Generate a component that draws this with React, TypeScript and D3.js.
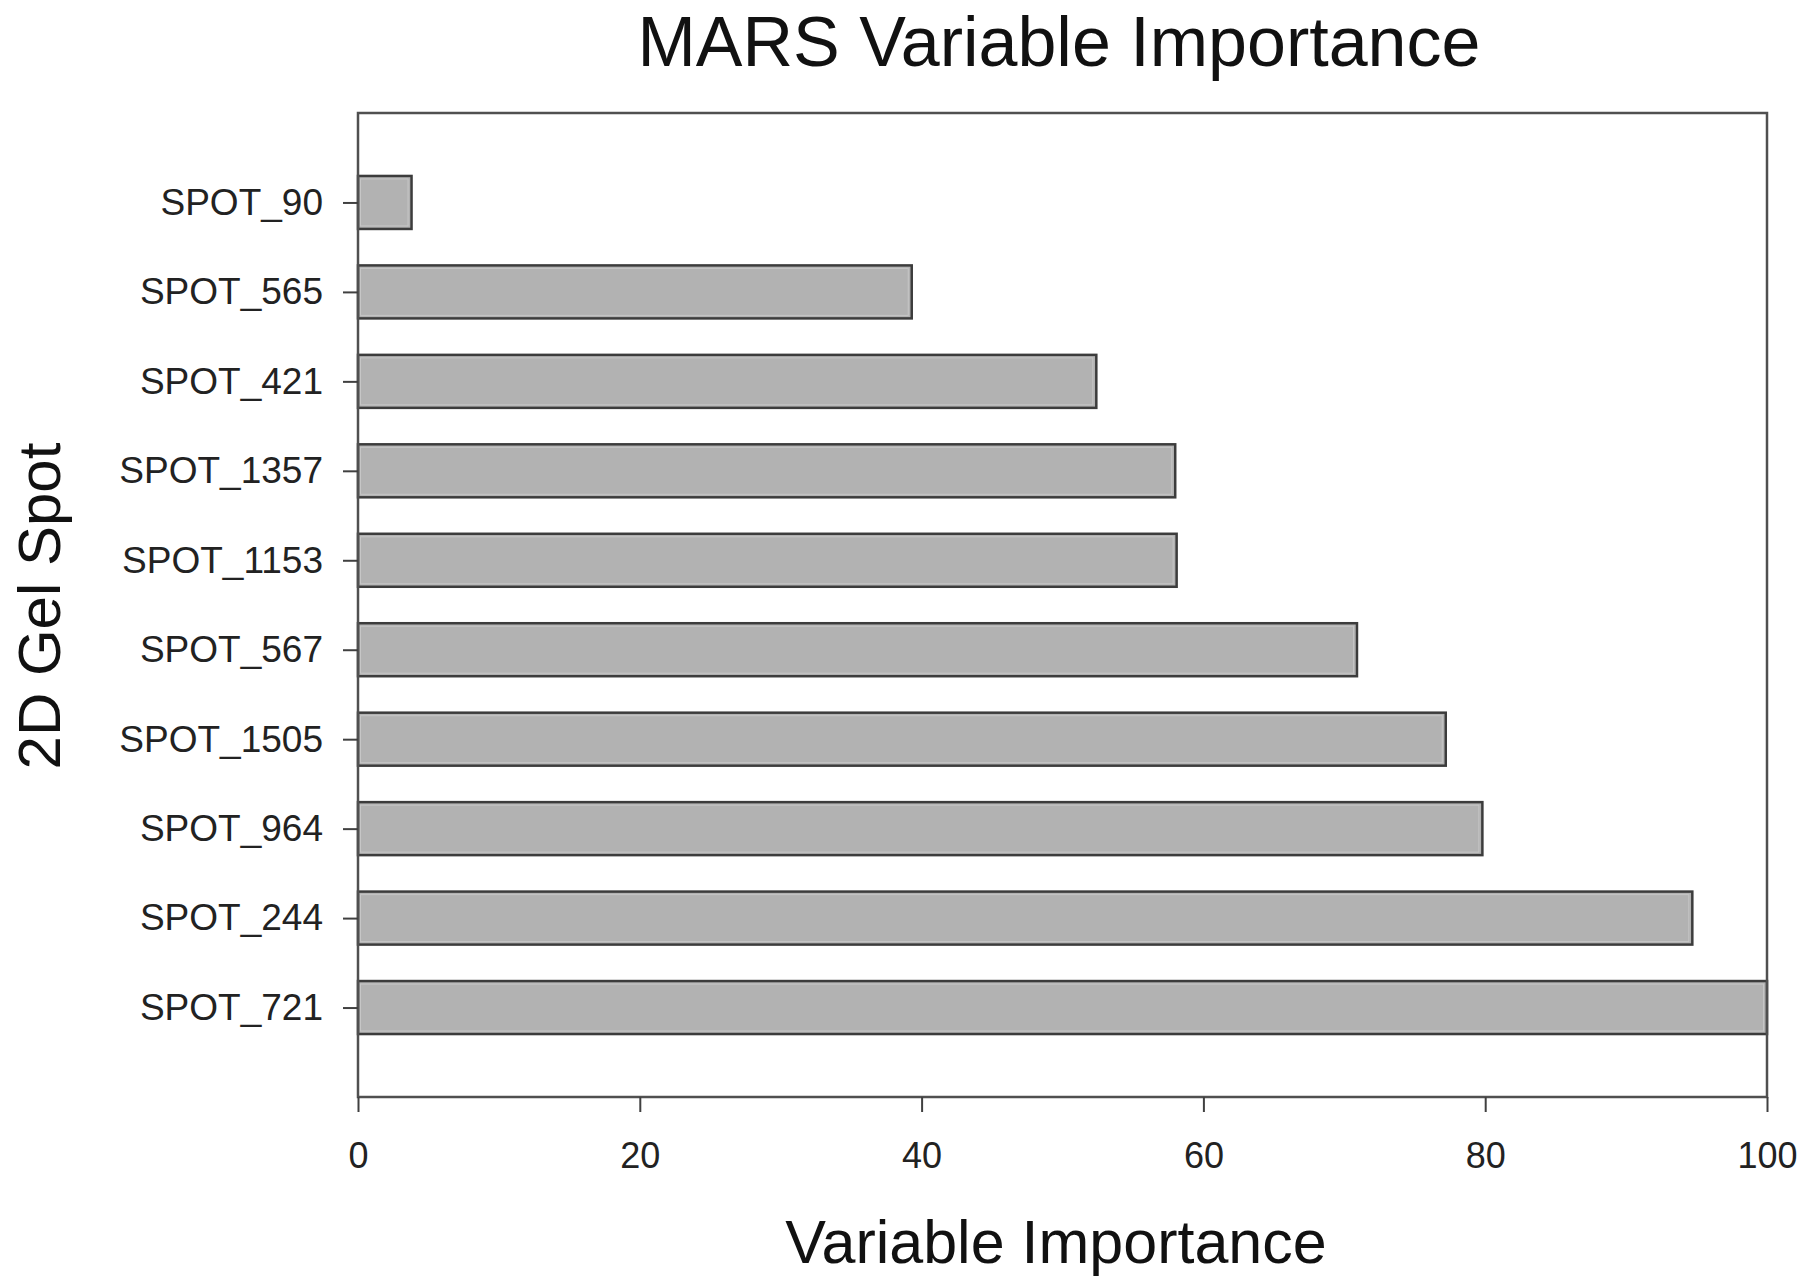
import React, { useEffect, useRef } from 'react'
import * as d3 from 'd3'

// Data
const spots = [
  'SPOT_90',
  'SPOT_565',
  'SPOT_421',
  'SPOT_1357',
  'SPOT_1153',
  'SPOT_567',
  'SPOT_1505',
  'SPOT_964',
  'SPOT_244',
  'SPOT_721'
]
const importance = [3.8, 39.3, 52.4, 58.0, 58.1, 70.9, 77.2, 79.8, 94.7, 100]
const xTicks = [0, 20, 40, 60, 80, 100]

const FONT = '"Liberation Sans", Arial, Helvetica, sans-serif'

export default function App() {
  const svgRef = useRef<SVGSVGElement | null>(null)

  useEffect(() => {
    const totalW = 1800
    const totalH = 1284
    const margin = { top: 113, bottom: 187, left: 358, right: 33 }
    const w = totalW - margin.left - margin.right
    const h = totalH - margin.top - margin.bottom

    const svg = d3.select(svgRef.current)
    svg.selectAll('*').remove()

    // Scales
    const x = d3.scaleLinear().domain([0, 100]).range([0, w])
    const y = d3.scalePoint<string>().domain(spots).range([0, h]).padding(1)
    const barH = 53

    const g = svg.append('g').attr('transform', `translate(${margin.left}, ${margin.top})`)

    // Bars
    const rows = spots.map((s, i) => ({ spot: s, value: importance[i] }))

    g.selectAll('rect.bar')
      .data(rows)
      .enter()
      .append('rect')
      .attr('class', 'bar')
      .attr('x', 0)
      .attr('y', d => (y(d.spot) as number) - barH / 2)
      .attr('width', d => x(d.value))
      .attr('height', barH)
      .attr('fill', '#b2b2b2')
      .attr('stroke', '#3c3c3c')
      .attr('stroke-width', 2.5)

    // faint inner highlight
    g.selectAll('rect.hi')
      .data(rows)
      .enter()
      .append('rect')
      .attr('class', 'hi')
      .attr('x', 2.5)
      .attr('y', d => (y(d.spot) as number) - barH / 2 + 3)
      .attr('width', d => Math.max(0, x(d.value) - 6))
      .attr('height', barH - 6)
      .attr('fill', 'none')
      .attr('stroke', '#c6c6c6')
      .attr('stroke-width', 1)

    // Frame
    g.append('rect')
      .attr('x', 0)
      .attr('y', 0)
      .attr('width', w)
      .attr('height', h)
      .attr('fill', 'none')
      .attr('stroke', '#505050')
      .attr('stroke-width', 2.5)

    // Axes
    const xAxis = g
      .append('g')
      .attr('transform', `translate(0, ${h})`)
      .call(d3.axisBottom(x).tickValues(xTicks).tickSize(15).tickSizeOuter(0).tickPadding(30))
    xAxis.select('.domain').remove()
    xAxis.selectAll('line').attr('stroke', '#404040').attr('stroke-width', 2)
    xAxis
      .selectAll('text')
      .attr('fill', '#222')
      .style('font-family', FONT)
      .style('font-size', '36px')

    const yAxis = g
      .append('g')
      .call(d3.axisLeft(y).tickSize(15).tickSizeOuter(0).tickPadding(20))
    yAxis.select('.domain').remove()
    yAxis.selectAll('line').attr('stroke', '#404040').attr('stroke-width', 2)
    yAxis
      .selectAll('text')
      .attr('fill', '#222')
      .style('font-family', FONT)
      .style('font-size', '37px')

    // Titles
    svg
      .append('text')
      .attr('x', 1059)
      .attr('y', 66)
      .attr('text-anchor', 'middle')
      .style('font-family', FONT)
      .style('font-size', '70px')
      .attr('fill', '#111')
      .text('MARS Variable Importance')

    svg
      .append('text')
      .attr('x', 1056)
      .attr('y', 1263)
      .attr('text-anchor', 'middle')
      .style('font-family', FONT)
      .style('font-size', '61px')
      .attr('fill', '#111')
      .text('Variable Importance')

    svg
      .append('text')
      .attr('transform', 'translate(60, 606) rotate(-90)')
      .attr('text-anchor', 'middle')
      .style('font-family', FONT)
      .style('font-size', '60px')
      .attr('fill', '#111')
      .text('2D Gel Spot')
  }, [])

  return (
    <svg
      ref={svgRef}
      width={1800}
      height={1284}
      style={{ position: 'absolute', left: 0, top: 0, background: '#fff' }}
    />
  )
}
